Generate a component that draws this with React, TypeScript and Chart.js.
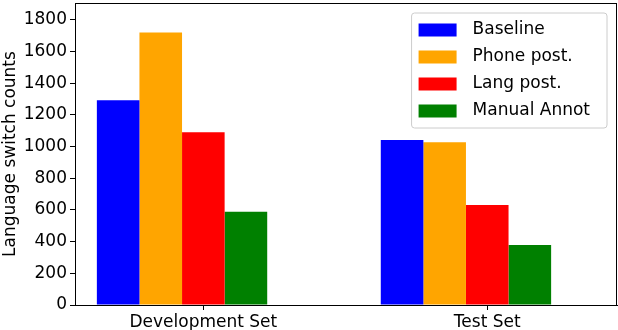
import React, { useEffect, useRef } from 'react';
import { Chart, registerables } from 'chart.js';
Chart.register(...registerables);

const categories = ['Development Set', 'Test Set'];
const seriesNames = ['Baseline', 'Phone post.', 'Lang post.', 'Manual Annot'];
const seriesColors = ['#0000ff', '#ffa500', '#ff0000', '#008000'];
const baseline = [1293, 1042];
const phonePost = [1720, 1028];
const langPost = [1091, 632];
const manualAnnot = [589, 379];
const yTicks = [0, 200, 400, 600, 800, 1000, 1200, 1400, 1600, 1800];
const yTitle = 'Language switch counts';

const FONT = 'DejaVu Sans';
// the category tick sits under the third bar of each group (matplotlib ind + 2*width)
const GROUP_SHIFT = -0.075;

const framePlugin = {
  id: 'frame',
  afterDatasetsDraw(chart: any) {
    const { ctx, chartArea: a } = chart;
    ctx.save();
    ctx.strokeStyle = '#000';
    ctx.lineWidth = 1;
    ctx.strokeRect(Math.round(a.left) + 0.5, Math.round(a.top) + 0.5, Math.round(a.right - a.left) - 1, Math.round(a.bottom - a.top));
    ctx.restore();
  },
};

const legendPlugin = {
  id: 'innerLegend',
  afterDraw(chart: any) {
    const { ctx, chartArea: a } = chart;
    const ds = chart.data.datasets;
    ctx.save();
    ctx.font = `17px "${FONT}"`;
    let maxW = 0;
    ds.forEach((d: any) => { maxW = Math.max(maxW, ctx.measureText(d.label).width); });
    const padL = 7, swW = 38, swH = 13, gap = 16, padR = 17, rowH = 27, padT = 16;
    const w = padL + swW + gap + maxW + padR;
    const h = padT * 2 + rowH * (ds.length - 1) + 2;
    const x = a.right - 10 - w;
    const y = a.top + 10;
    const r = 3;
    ctx.beginPath();
    ctx.moveTo(x + r, y);
    ctx.arcTo(x + w, y, x + w, y + h, r);
    ctx.arcTo(x + w, y + h, x, y + h, r);
    ctx.arcTo(x, y + h, x, y, r);
    ctx.arcTo(x, y, x + w, y, r);
    ctx.closePath();
    ctx.fillStyle = 'rgba(255,255,255,0.8)';
    ctx.fill();
    ctx.strokeStyle = '#cccccc';
    ctx.lineWidth = 1;
    ctx.stroke();
    ds.forEach((d: any, i: number) => {
      const cy = y + padT + 1 + i * rowH;
      ctx.fillStyle = d.backgroundColor;
      ctx.fillRect(x + padL, cy - swH / 2, swW, swH);
      ctx.fillStyle = '#000';
      ctx.textBaseline = 'middle';
      ctx.textAlign = 'left';
      ctx.fillText(d.label, x + padL + swW + gap, cy);
    });
    ctx.restore();
  },
};

export default function App() {
  const ref = useRef<HTMLCanvasElement>(null);
  useEffect(() => {
    document.body.style.margin = '0';
    const series = [baseline, phonePost, langPost, manualAnnot];
    const chart = new Chart(ref.current!, {
      type: 'bar',
      data: {
        datasets: series.map((vals, si) => ({
          label: seriesNames[si],
          backgroundColor: seriesColors[si],
          borderWidth: 0,
          data: vals.map((v, ci) => ({ x: ci + GROUP_SHIFT, y: v })),
          categoryPercentage: 0.6,
          barPercentage: 1,
        })),
      },
      options: {
        responsive: false,
        animation: false,
        layout: { padding: { top: 3, right: 1, left: 0, bottom: 0 } },
        plugins: { legend: { display: false }, tooltip: { enabled: false } },
        scales: {
          x: {
            type: 'linear',
            offset: false,
            min: -0.452,
            max: 1.457,
            grid: { display: true, offset: false, drawOnChartArea: false, color: '#000', tickLength: 5 },
            border: { display: true, color: '#000' },
            afterBuildTicks: (s: any) => { s.ticks = categories.map((_, i) => ({ value: i })); },
            ticks: {
              color: '#000',
              font: { family: FONT, size: 17 },
              padding: 2,
              maxRotation: 0,
              autoSkip: false,
              callback: (v: any) => categories[v] ?? '',
            },
            afterFit: (s: any) => { s.height = 25; s.paddingLeft = 0; s.paddingRight = 0; },
          },
          y: {
            min: 0,
            max: 1907,
            grid: { display: true, drawOnChartArea: false, color: '#000', tickLength: 5 },
            border: { display: true, color: '#000' },
            afterBuildTicks: (s: any) => { s.ticks = yTicks.map((v) => ({ value: v })); },
            ticks: {
              color: '#000',
              font: { family: FONT, size: 17 },
              padding: 3,
              callback: (v: any) => String(v),
            },
            title: {
              display: true,
              text: yTitle,
              color: '#000',
              font: { family: FONT, size: 17 },
              padding: { top: 0, bottom: 4 },
            },
            afterFit: (s: any) => { s.width = 75; s.paddingTop = 0; s.paddingBottom = 0; },
          },
        },
      },
      plugins: [framePlugin, legendPlugin],
    });
    return () => chart.destroy();
  }, []);
  return <canvas ref={ref} width={618} height={330} style={{ display: 'block' }} />;
}
